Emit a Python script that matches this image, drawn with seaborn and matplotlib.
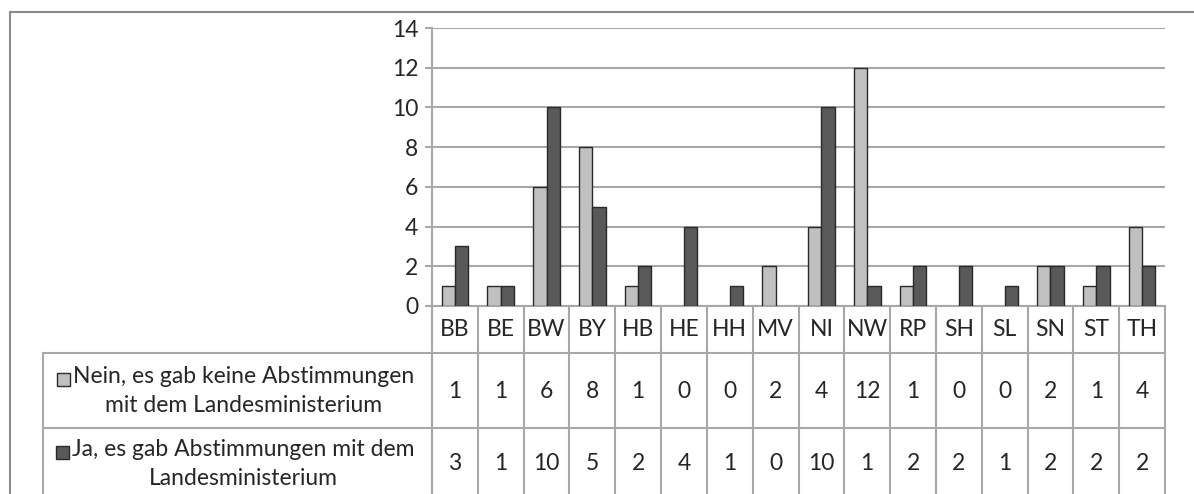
import matplotlib.pyplot as plt
import pandas as pd
import seaborn as sns
from matplotlib.lines import Line2D
from matplotlib.patches import Rectangle

states = ["BB", "BE", "BW", "BY", "HB", "HE", "HH", "MV",
          "NI", "NW", "RP", "SH", "SL", "SN", "ST", "TH"]
nein = [1, 1, 6, 8, 1, 0, 0, 2, 4, 12, 1, 0, 0, 2, 1, 4]
ja = [3, 1, 10, 5, 2, 4, 1, 0, 10, 1, 2, 2, 1, 2, 2, 2]
series_labels = ["Nein, es gab keine Abstimmungen\nmit dem Landesministerium",
                 "Ja, es gab Abstimmungen mit dem\nLandesministerium"]
y_ticks = [0, 2, 4, 6, 8, 10, 12, 14]

LIGHT = "#c0c0c0"
DARK = "#595959"
EDGE = "#2a2a2a"
GRID = "#a8a8a8"
TEXT = "#262626"
FS = 16.5

df = pd.DataFrame({
    "Land": states * 2,
    "Anzahl": nein + ja,
    "Serie": [series_labels[0]] * len(states) + [series_labels[1]] * len(states),
})

sns.set_theme(style="white")
plt.rcParams["font.family"] = ["Lato", "DejaVu Sans"]

W, H = 1194, 494
fig = plt.figure(figsize=(W / 100, H / 100), dpi=100)
fig.patch.set_facecolor("white")

# plot area in pixel positions of the reference
x0, x1, ytop, ybot = 432, 1165, 28, 306
ax = fig.add_axes([x0 / W, 1 - ybot / H, (x1 - x0) / W, (ybot - ytop) / H])

sns.barplot(data=df, x="Land", y="Anzahl", hue="Serie", order=states,
            hue_order=series_labels, palette=[LIGHT, DARK], width=0.58,
            edgecolor=EDGE, linewidth=1, legend=False, ax=ax, zorder=3)
# Excel shows nothing for zero-height bars
for p in ax.patches:
    if p.get_height() == 0:
        p.set_visible(False)

ax.set_xlim(-0.5, len(states) - 0.5)
ax.set_ylim(0, 14)
ax.set_yticks(y_ticks)
ax.yaxis.grid(True, color=GRID, linewidth=1.5)
ax.set_axisbelow(True)
ax.set_xticks([])
ax.set_xlabel("")
ax.set_ylabel("")
for side in ["top", "right"]:
    ax.spines[side].set_visible(False)
for side in ["left", "bottom"]:
    ax.spines[side].set_color(GRID)
    ax.spines[side].set_linewidth(1.5)
ax.tick_params(axis="y", which="both", left=True, length=5, width=1.5,
               color=GRID, labelsize=FS, labelcolor=TEXT, pad=5)

# data table under the chart
ah = ybot - ytop
aw = x1 - x0
row1 = -(353 - ybot) / ah
row2 = -(428 - ybot) / ah
row_end = -(H + 10 - ybot) / ah
left_edge = (43 - x0) / aw

xt = ax.get_xaxis_transform()
for k in range(len(states) + 1):
    ax.plot([k - 0.5, k - 0.5], [0, row_end], transform=xt, color=GRID,
            lw=1.5, clip_on=False)
for yy in [row1, row2]:
    ax.plot([left_edge, 1], [yy, yy], transform=ax.transAxes, color=GRID,
            lw=1.5, clip_on=False)
ax.plot([left_edge, left_edge], [row1, row_end], transform=ax.transAxes,
        color=GRID, lw=1.5, clip_on=False)

y_cat = -(330 - ybot) / ah
y_r2 = -(391 - ybot) / ah
y_r3 = -(464 - ybot) / ah
for i, s in enumerate(states):
    ax.text(i, y_cat, s, transform=xt, ha="center", va="center",
            fontsize=FS, color=TEXT)
    ax.text(i, y_r2, str(nein[i]), transform=xt, ha="center", va="center",
            fontsize=FS, color=TEXT)
    ax.text(i, y_r3, str(ja[i]), transform=xt, ha="center", va="center",
            fontsize=FS, color=TEXT)

# legend keys inside the table's first column
cell_cx = ((43 + 432) / 2 + 6 - x0) / aw
labels = []
for lab, yy in zip(series_labels, [y_r2, y_r3]):
    t = ax.text(cell_cx, yy, lab, transform=ax.transAxes, ha="center",
                va="center", multialignment="center", fontsize=FS,
                color=TEXT, linespacing=1.45)
    labels.append(t)

fig.canvas.draw()
renderer = fig.canvas.get_renderer()
for t, col in zip(labels, [LIGHT, DARK]):
    bb = t.get_window_extent(renderer)
    sq = 13
    lx = bb.x0 - sq - 3
    ly = bb.y1 - sq - 7
    fig.add_artist(Rectangle((lx / W, ly / H), sq / W, sq / H,
                             transform=fig.transFigure, facecolor=col,
                             edgecolor=EDGE, linewidth=1))

# outer chart frame
fig.add_artist(Line2D([10 / W, 1], [1 - 12 / H, 1 - 12 / H],
                      transform=fig.transFigure, color="#8c8c8c", lw=1.5))
fig.add_artist(Line2D([10 / W, 10 / W], [0, 1 - 12 / H],
                      transform=fig.transFigure, color="#8c8c8c", lw=1.5))

fig.savefig("out.png", dpi=100)
